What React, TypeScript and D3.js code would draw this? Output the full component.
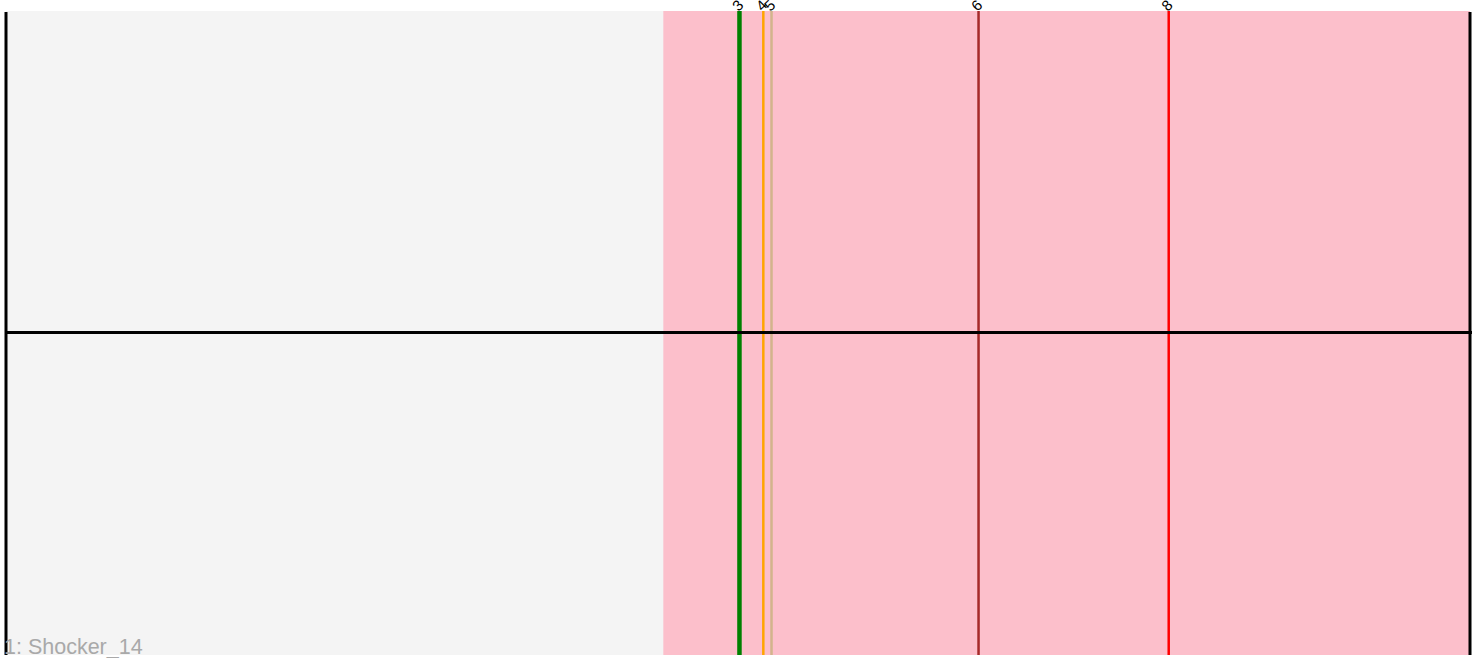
import React from 'react';
import * as d3 from 'd3';

// sequence coordinates (0..1000)
const seqLength = 1000;
const regionStart = 449;
const regionEnd = 1000;
const siteLabels = ['3', '4', '5', '6', '8'];
const sitePositions = [501.0, 517.3, 522.9, 664.3, 794.2];
const siteColors = ['#008000', '#ffa500', '#d2b48c', '#a52a2a', '#ff0000'];
const siteWidths = [4.5, 2.5, 2.5, 2.5, 2.5];
const trackName = '1: Shocker_14';

const W = 1482;
const H = 658;

export default function App() {
  const top = 11;
  const bottom = 655;
  const x = d3.scaleLinear().domain([0, seqLength]).range([6, 1470]);
  const midY = 332.5;

  return (
    <svg width={W} height={H} style={{ position: 'absolute', left: 0, top: 0 }}>
      <rect x={x(0)} y={top} width={x(seqLength) - x(0)} height={bottom - top} fill="#f4f4f4" />
      <rect x={x(regionStart)} y={top} width={x(regionEnd) - x(regionStart)} height={bottom - top} fill="#fcbfcb" />
      {sitePositions.map((p, i) => (
        <line key={'l' + i} x1={x(p)} x2={x(p)} y1={top} y2={bottom} stroke={siteColors[i]} strokeWidth={siteWidths[i]} />
      ))}
      <line x1={x(0)} x2={1472} y1={midY} y2={midY} stroke="#000" strokeWidth={3} />
      <line x1={x(0)} x2={x(0)} y1={top + 1} y2={bottom} stroke="#000" strokeWidth={3} />
      <line x1={x(seqLength)} x2={x(seqLength)} y1={top + 1} y2={bottom} stroke="#000" strokeWidth={3} />
      {sitePositions.map((p, i) => (
        <text
          key={'t' + i}
          x={0}
          y={0}
          transform={`translate(${x(p) - 1}, ${top + 1}) rotate(-45)`}
          fontFamily="Liberation Sans, Arial, sans-serif"
          fontSize={15}
          fill="#000"
        >
          {siteLabels[i]}
        </text>
      ))}
      <text x={4} y={654} fontFamily="Liberation Sans, Arial, sans-serif" fontSize={21.5} fill="#a9a9a9">
        {trackName}
      </text>
    </svg>
  );
}
